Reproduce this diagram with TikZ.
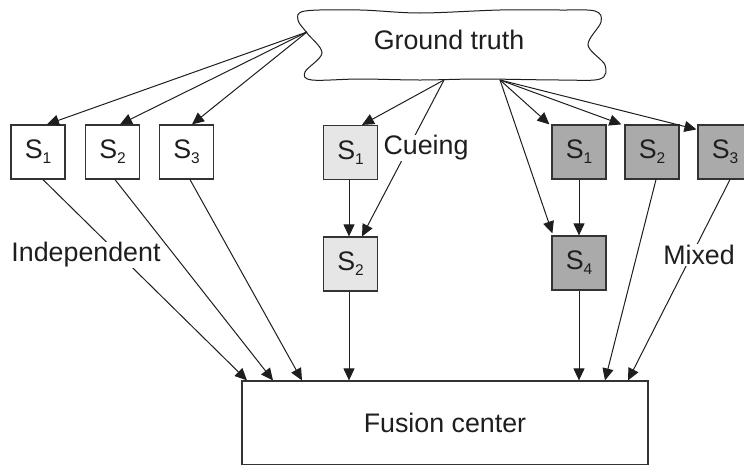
\documentclass[tikz,border=0pt]{standalone}
\usepackage{fontspec}
\setmainfont{Liberation Sans}
\usetikzlibrary{arrows.meta}
\definecolor{ink}{HTML}{1E1E1E}
\definecolor{edge}{HTML}{333333}
\definecolor{lgray}{HTML}{E6E6E6}
\definecolor{dgray}{HTML}{AAAAAA}
\newcommand{\Ssub}[1]{S\raisebox{-5pt}{\fontsize{15.5}{15.5}\selectfont #1}}
\begin{document}
\begin{tikzpicture}[x=1pt,y=-1pt,
  txt/.style={text=ink, font=\fontsize{26.8}{30}\selectfont},
  sensor/.style={txt, draw=edge, line width=1.2pt, minimum width=54pt, minimum height=54pt, inner sep=0pt},
  indep/.style={sensor, fill=white},
  cue/.style={sensor, fill=lgray},
  mix/.style={sensor, fill=dgray},
  lbl/.style={txt, fill=white, inner sep=1pt},
  arr/.style={draw=ink, line width=1pt, -{Triangle[length=12pt,width=11pt]}},
  ln/.style={draw=ink, line width=1pt}
]
\useasboundingbox (0,0) rectangle (744,464);

% cloud
\draw[ln, fill=white] plot[smooth cycle, tension=0.55] coordinates {(305,11) (360,10) (420,13) (500,10) (560,10) (595,11) (601,22) (588,45) (605,65) (600,79) (560,80) (480,79) (420,80) (360,79) (312,80) (305,72) (322,53) (307,33) (298,20)};
\node[txt] (gt) at (449,40) {Ground truth};
\coordinate (gtL) at (307,32);
\coordinate (gtB1) at (444,80);
\coordinate (gtB2) at (500,80);

% sensors
\node[indep] (i1) at (38,152) {\Ssub{1}};
\node[indep] (i2) at (112.5,152) {\Ssub{2}};
\node[indep] (i3) at (186.5,152) {\Ssub{3}};
\node[cue] (c1) at (350.5,152.5) {\Ssub{1}};
\node[cue] (c2) at (350.5,264) {\Ssub{2}};
\node[mix] (m1) at (579,152) {\Ssub{1}};
\node[mix] (m2) at (652,152) {\Ssub{2}};
\node[mix] (m3) at (725,152) {\Ssub{3}};
\node[mix] (m4) at (579,263) {\Ssub{4}};

\node[txt, draw=edge, line width=1.2pt, fill=white, minimum width=406pt, minimum height=84pt, inner sep=0pt] (fc) at (445,423) {Fusion center};

% ground truth to sensors
\draw[arr] (gtL) -- ([xshift=9pt]i1.north);
\draw[arr] (gtL) -- ([xshift=7.5pt]i2.north);
\draw[arr] (gtL) -- ([xshift=5.5pt]i3.north);
\draw[arr] (gtB1) -- ([xshift=11.5pt]c1.north);
\draw[arr] (gtB1) -- ([xshift=11.5pt]c2.north);
\draw[arr] (gtB2) -- ([xshift=-2pt]m1.north west);
\draw[arr] (gtB2) -- ([xshift=-3pt]m2.north west);
\draw[arr] (gtB2) -- ([xshift=-1pt,yshift=-5pt]m3.north west);
\draw[arr] (gtB2) -- ([xshift=1pt,yshift=2pt]m4.north west);

% chains
\draw[arr] ([xshift=-1.5pt]c1.south) -- ([xshift=-1.5pt]c2.north);
\draw[arr] (m1.south) -- (m4.north);

% to fusion
\draw[arr] ([xshift=5pt]i1.south) -- ([xshift=-198pt]fc.north);
\draw[arr] ([xshift=2.5pt]i2.south) -- ([xshift=-172pt]fc.north);
\draw[arr] ([xshift=3.5pt]i3.south) -- ([xshift=-143pt]fc.north);
\draw[arr] ([xshift=-1.5pt]c2.south) -- ([xshift=-1.5pt]c2.south |- fc.north);
\draw[arr] (m4.south) -- (m4.south |- fc.north);
\draw[arr] ([xshift=4pt]m2.south) -- ([xshift=160pt]fc.north);
\draw[arr] ([xshift=5pt]m3.south) -- ([xshift=183pt]fc.north);

% labels
\node[lbl] (lind) at (86,255) {Independent};
\node[lbl] (lcue) at (426,148) {Cueing};
\node[lbl] (lmix) at (699,255) {Mixed};
\end{tikzpicture}
\end{document}
